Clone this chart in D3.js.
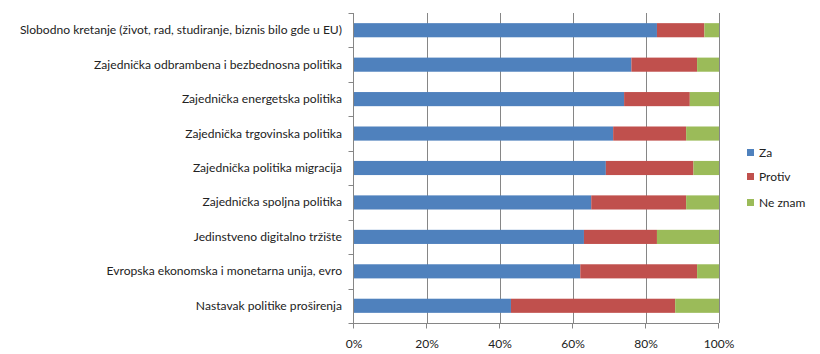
<!DOCTYPE html>
<html>
<head>
<meta charset="utf-8">
<script src="https://cdn.jsdelivr.net/npm/d3@7"></script>
<style>
  body { margin: 0; background: #fff; }
  svg { display: block; font-family: Lato, "Open Sans", sans-serif; }
</style>
</head>
<body>
<div id="chart"></div>
<script>
// Data
const categories = [
  "Slobodno kretanje (život, rad, studiranje, biznis bilo gde u EU)",
  "Zajednička odbrambena i bezbednosna politika",
  "Zajednička energetska politika",
  "Zajednička trgovinska politika",
  "Zajednička politika migracija",
  "Zajednička spoljna politika",
  "Jedinstveno digitalno tržište",
  "Evropska ekonomska i monetarna unija, evro",
  "Nastavak politike proširenja"
];
const seriesNames = ["Za", "Protiv", "Ne znam"];
const za     = [83, 76, 74, 71, 69, 65, 63, 62, 43];
const protiv = [13, 18, 18, 20, 24, 26, 20, 32, 45];
const neZnam = [4, 6, 8, 9, 7, 9, 17, 6, 12];
const tickValues = [0, 20, 40, 60, 80, 100];
const colors = ["#4F81BD", "#C0504D", "#9BBB59"];

const width = 820, height = 354;
const margin = { left: 354, right: 101, top: 13, bottom: 31 };

const svg = d3.select("#chart").append("svg").attr("width", width).attr("height", height);

const x = d3.scaleLinear().domain([0, 100]).range([margin.left, width - margin.right]);
const y = d3.scaleBand().domain(categories).range([margin.top, height - margin.bottom]).paddingInner(0.59).paddingOuter(0.295);
const yEdges = d3.scaleLinear().domain([0, categories.length]).range([margin.top, height - margin.bottom]);

// gridlines
svg.append("g").selectAll("line").data(tickValues.filter(d => d > 0)).enter().append("line")
  .attr("x1", d => Math.round(x(d)) + 0.5).attr("x2", d => Math.round(x(d)) + 0.5)
  .attr("y1", margin.top).attr("y2", height - margin.bottom)
  .attr("stroke", "#868686").attr("stroke-width", 1);

// stacked bars
const rows = categories.map((c, i) => ({ cat: c, Za: za[i], Protiv: protiv[i], "Ne znam": neZnam[i] }));
const stack = d3.stack().keys(seriesNames)(rows);
svg.append("g").selectAll("g").data(stack).enter().append("g")
  .attr("fill", (d, i) => colors[i])
  .selectAll("rect").data(d => d).enter().append("rect")
  .attr("x", d => x(d[0]))
  .attr("width", d => x(d[1]) - x(d[0]))
  .attr("y", d => y(d.data.cat))
  .attr("height", y.bandwidth());

// left axis line + ticks at band edges
const axisX = Math.round(x(0)) - 0.5;
svg.append("line").attr("x1", axisX).attr("x2", axisX).attr("y1", margin.top).attr("y2", height - margin.bottom)
  .attr("stroke", "#868686");
svg.append("g").selectAll("line").data(d3.range(categories.length + 1)).enter().append("line")
  .attr("x1", axisX - 5).attr("x2", axisX)
  .attr("y1", d => Math.round(yEdges(d)) + 0.5).attr("y2", d => Math.round(yEdges(d)) + 0.5)
  .attr("stroke", "#868686");

// bottom axis line + ticks
const axisY = Math.round(height - margin.bottom) + 0.5;
svg.append("line").attr("x1", x(0) - 1).attr("x2", x(100)).attr("y1", axisY).attr("y2", axisY).attr("stroke", "#868686");
svg.append("g").selectAll("line").data(tickValues).enter().append("line")
  .attr("x1", d => Math.round(x(d)) - 0.5).attr("x2", d => Math.round(x(d)) - 0.5)
  .attr("y1", axisY).attr("y2", axisY + 5).attr("stroke", "#868686");

// tick labels
svg.append("g").selectAll("text").data(tickValues).enter().append("text")
  .attr("x", d => x(d)).attr("y", 348)
  .attr("text-anchor", "middle").attr("font-size", 12).attr("fill", "#222")
  .text(d => d + "%");

// category labels
svg.append("g").selectAll("text").data(categories).enter().append("text")
  .attr("x", 342).attr("y", d => y(d) + y.bandwidth() / 2 + 4)
  .attr("text-anchor", "end").attr("font-size", 12.1).attr("fill", "#222")
  .text(d => d);

// legend
const legend = svg.append("g").attr("transform", "translate(747, 0)");
const legendY = [153, 177, 203];
seriesNames.forEach((s, i) => {
  legend.append("rect").attr("x", 0).attr("y", legendY[i] - 4).attr("width", 7).attr("height", 7).attr("fill", colors[i]);
  legend.append("text").attr("x", 12).attr("y", legendY[i] + 4).attr("font-size", 12).attr("fill", "#222").text(s);
});
</script>
</body>
</html>
